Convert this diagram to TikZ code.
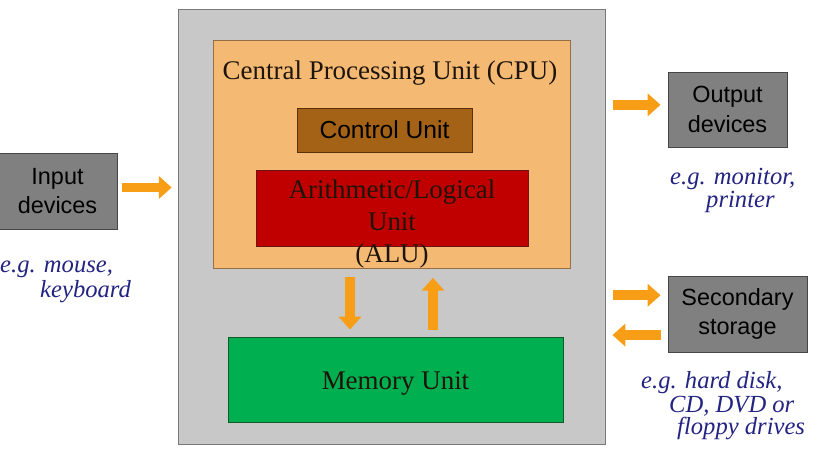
\documentclass[tikz,border=0pt]{standalone}
\usepackage{fontspec}
\setmainfont{Liberation Serif}
\newfontfamily\sansf{Liberation Sans}
\usetikzlibrary{arrows.meta,fit}
\definecolor{outerg}{RGB}{200,200,200}
\definecolor{outerd}{RGB}{120,120,120}
\definecolor{cpuf}{RGB}{244,185,115}
\definecolor{cpud}{RGB}{150,110,70}
\definecolor{ctrlf}{RGB}{163,98,22}
\definecolor{ctrld}{RGB}{90,50,10}
\definecolor{aluf}{RGB}{192,0,0}
\definecolor{alud}{RGB}{110,20,20}
\definecolor{memf}{RGB}{0,176,80}
\definecolor{memd}{RGB}{20,90,40}
\definecolor{boxg}{RGB}{128,128,128}
\definecolor{boxd}{RGB}{70,70,70}
\definecolor{arrowc}{RGB}{248,158,22}
\definecolor{navyt}{RGB}{35,35,130}
\definecolor{darkt}{RGB}{30,20,10}
\begin{document}
\begin{tikzpicture}[x=0.03cm,y=-0.03cm,
  rbox/.style={inner sep=0pt, line width=0.8pt},
  sbox/.style={rbox, fill=boxg, draw=boxd},
  stext/.style={inner sep=0pt, align=center, text=black,
    font=\sansf\fontsize{20}{25}\selectfont},
  serift/.style={inner sep=0pt, text=darkt, font=\fontsize{23}{27}\selectfont, align=center},
  note/.style={anchor=base west, inner sep=0pt, text=navyt, font=\itshape\fontsize{21}{24}\selectfont},
  fat/.style={draw=arrowc, line width=8.5pt, -{Triangle[length=11pt,width=19pt]}}]
\useasboundingbox (0,0) rectangle (830,456);
% main boxes
\node[rbox, fill=outerg, draw=outerd, fit={(178,9) (605,444)}] (outer) {};
\node[rbox, fill=cpuf, draw=cpud, fit={(213,40) (570,268)}] (cpu) {};
\node[serift] (cputitle) at (390,73) {Central Processing Unit (CPU)};
\node[rbox, fill=ctrlf, draw=ctrld, fit={(297,108) (472,152)}] (ctrl) {};
\node[stext, font=\sansf\fontsize{21}{25}\selectfont] (ctrltext) at (ctrl.center) {Control Unit};
\node[rbox, fill=aluf, draw=alud, fit={(256,170) (528,246)}] (alu) {};
\node[serift] (alutext) at (392,224) {Arithmetic/Logical\\Unit\\(ALU)};
\node[rbox, fill=memf, draw=memd, fit={(228,337) (563,422)}] (mem) {};
\node[serift] (memtext) at ([yshift=-3pt]mem.center) {Memory Unit};
% side boxes
\node[sbox, fit={(-2,153) (117,229)}] (in) {};
\node[stext] (intext) at (in.center) {Input\\devices};
\node[sbox, fit={(668,72) (787,147)}] (out) {};
\node[stext] (outtext) at (out.center) {Output\\devices};
\node[sbox, fit={(668,276) (807,352)}] (sto) {};
\node[stext] (stotext) at (sto.center) {Secondary\\storage};
% notes
\node[note] (n1) at (0,273) {e.g. mouse,};
\node[note] (n2) at (40,298) {keyboard};
\node[note] (n3) at (670,185) {e.g. monitor,};
\node[note] (n4) at (706,208) {printer};
\node[note] (n5) at (641,389) {e.g. hard disk,};
\node[note] (n6) at (669,412) {CD, DVD or};
\node[note] (n7) at (677,435) {floppy drives};
% arrows
\coordinate (xd) at (350,0);
\coordinate (xu) at (433,0);
\draw[fat, shorten <=4pt, shorten >=5pt] ([yshift=3pt]in.east) -- ([yshift=3pt]in.east -| outer.west);
\draw[fat, shorten <=6pt, shorten >=6pt] ([yshift=4pt]out.west -| outer.east) -- ([yshift=4pt]out.west);
\draw[fat, shorten <=6pt, shorten >=6pt] ([yshift=16pt]sto.west -| outer.east) -- ([yshift=16pt]sto.west);
\draw[fat, shorten <=6pt, shorten >=6pt] ([yshift=-18pt]sto.west) -- ([yshift=-18pt]sto.west -| outer.east);
\draw[fat, shorten <=7pt, shorten >=6pt] (cpu.south -| xd) -- (mem.north -| xd);
\draw[fat, shorten <=6pt, shorten >=8pt] (mem.north -| xu) -- (cpu.south -| xu);
\end{tikzpicture}
\end{document}
